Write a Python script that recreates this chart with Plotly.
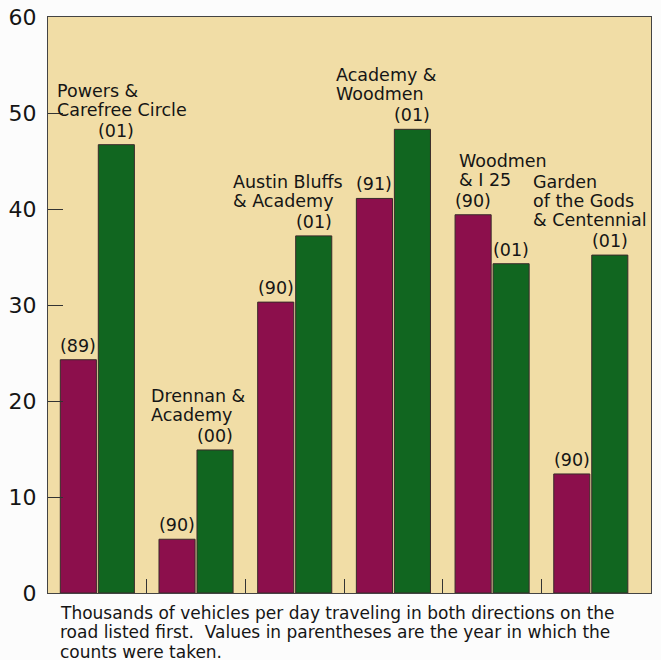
import plotly.graph_objects as go

# ---- data ----
groups = ["Powers & Carefree Circle", "Drennan & Academy", "Austin Bluffs & Academy",
          "Academy & Woodmen", "Woodmen & I 25", "Garden of the Gods & Centennial"]
group_label_lines = [["Powers &", "Carefree Circle"],
                     ["Drennan &", "Academy"],
                     ["Austin Bluffs", "& Academy"],
                     ["Academy &", "Woodmen"],
                     ["Woodmen", "& I 25"],
                     ["Garden", "of the Gods", "& Centennial"]]
early_values = [24.3, 5.6, 30.3, 41.1, 39.4, 12.4]
early_years = ["(89)", "(90)", "(90)", "(91)", "(90)", "(90)"]
late_values = [46.7, 14.9, 37.2, 48.3, 34.3, 35.2]
late_years = ["(01)", "(00)", "(01)", "(01)", "(01)", "(01)"]
y_ticks = [0, 10, 20, 30, 40, 50, 60]
caption_lines = ["Thousands of vehicles per day traveling in both directions on the",
                 "road listed first.\u00a0 Values in parentheses are the year in which the",
                 "counts were taken."]

# ---- style ----
MAROON = "#8c0f4c"
GREEN = "#116620"
TAN = "#f1dda6"
OUTLINE = "#3a2a2a"
FONT = "DejaVu Sans"
TXT = "#151515"
BARGAP = 0.23
LABEL_XSHIFT = [-42, -47, -64, -59, -35, -60]
LABEL_SIZE = 17.5

xs = list(range(len(groups)))

fig = go.Figure()
fig.add_trace(go.Bar(x=xs, y=early_values, marker=dict(color=MAROON, line=dict(color=OUTLINE, width=1)),
                     name="early", hoverinfo="skip"))
fig.add_trace(go.Bar(x=xs, y=late_values, marker=dict(color=GREEN, line=dict(color=OUTLINE, width=1)),
                     name="late", hoverinfo="skip"))

off = (1 - BARGAP) / 4
ann = []
for i in xs:
    ann.append(dict(x=i - off, y=early_values[i], xref="x", yref="y", text=early_years[i],
                    showarrow=False, yanchor="middle", yshift=14,
                    font=dict(size=LABEL_SIZE, family=FONT, color=TXT)))
    ann.append(dict(x=i + off, y=late_values[i], xref="x", yref="y", text=late_years[i],
                    showarrow=False, yanchor="middle", yshift=14,
                    font=dict(size=LABEL_SIZE, family=FONT, color=TXT)))
    top = max(early_values[i], late_values[i])
    lines = group_label_lines[i]
    for j, line in enumerate(reversed(lines)):
        ann.append(dict(x=i, y=top, xref="x", yref="y", text=line, showarrow=False,
                        xanchor="left", yanchor="middle", xshift=LABEL_XSHIFT[i], yshift=35 + 19 * j,
                        font=dict(size=LABEL_SIZE, family=FONT, color=TXT)))

for k, line in enumerate(caption_lines):
    ann.append(dict(x=0, y=0, xref="paper", yref="paper", text=line, showarrow=False,
                    xanchor="left", yanchor="middle", xshift=11, yshift=-19.5 - 19.5 * k,
                    borderpad=0, font=dict(size=17, family=FONT, color=TXT)))

fig.update_layout(
    width=661, height=660,
    margin=dict(l=48, r=10, t=17, b=67),
    paper_bgcolor="#fcfcfc", plot_bgcolor=TAN,
    barmode="group", bargap=BARGAP, bargroupgap=0.05,
    showlegend=False,
    annotations=ann,
    xaxis=dict(range=[-0.5, 5.61], tickvals=[0.5, 1.5, 2.5, 3.5, 4.5], ticks="inside", ticklen=14,
               tickcolor="#333", showticklabels=False, showgrid=False, zeroline=False,
               showline=True, mirror=True, linecolor="#444", linewidth=1, automargin=False),
    yaxis=dict(range=[0, 60], tickvals=y_ticks, ticks="inside", ticklen=15, tickcolor="#333",
               tickfont=dict(size=22, family=FONT, color=TXT), showgrid=False, zeroline=False,
               showline=True, mirror=True, linecolor="#444", linewidth=1, ticklabelstandoff=6,
               ticklabeloverflow="allow", automargin=False),
)

fig.write_html("out.html", config={"displayModeBar": False},
               post_script="document.body.style.margin='0';document.body.style.overflow='hidden';")
